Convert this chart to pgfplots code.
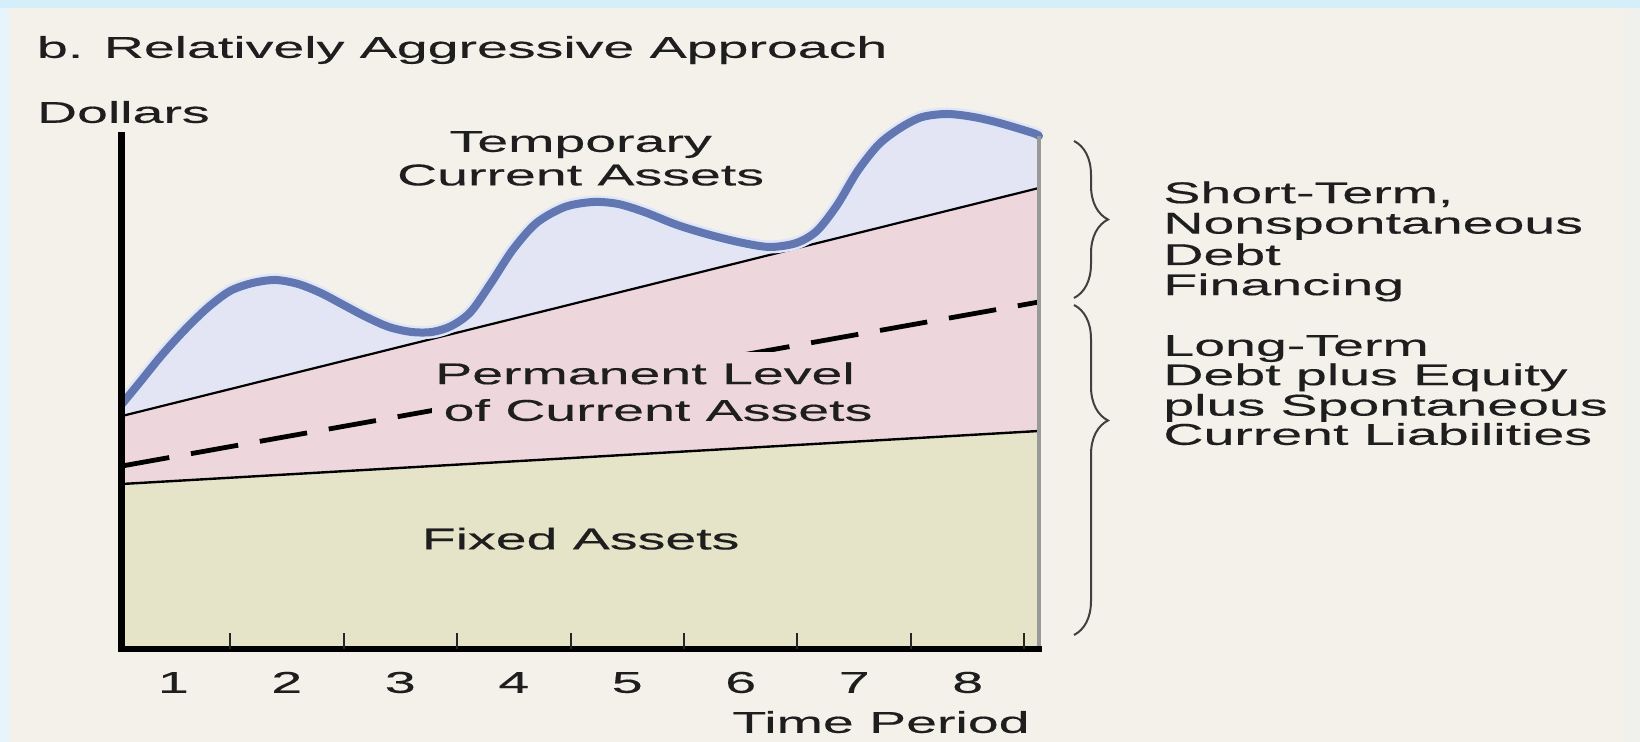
\documentclass[border=0pt]{standalone}
\usepackage{fontspec}
\setmainfont{Liberation Sans}[FakeStretch=1.85, FakeBold=0.4]
\usepackage{pgfplots}
\usepackage{pgfplotstable}
\pgfplotsset{compat=1.18}
\usetikzlibrary{decorations.pathreplacing}
\definecolor{bgc}{RGB}{244,241,234}
\definecolor{topband}{RGB}{212,238,250}
\definecolor{leftband}{RGB}{230,244,252}
\definecolor{rightband}{RGB}{240,240,236}
\definecolor{lav}{RGB}{227,228,244}
\definecolor{pinkc}{RGB}{237,215,221}
\definecolor{beige}{RGB}{230,228,200}
\definecolor{curveblue}{RGB}{98,118,178}
\definecolor{halo}{RGB}{222,230,248}
\definecolor{txt}{RGB}{30,30,30}
\newcommand\lbl{\fontsize{15}{15.5}\selectfont}

\pgfplotstableread{
x y
0.048 245
0.20 266
0.40 294
0.60 319
0.80 341
1.00 358
1.20 366
1.40 369
1.60 365
1.80 356
2.00 344
2.20 332
2.40 322
2.60 317
2.78 317
2.95 323
3.12 337
3.30 366
3.49 399
3.70 426
3.95 442
4.20 447
4.42 445
4.65 437
4.94 424
5.23 414
5.52 406
5.76 402
5.99 406
6.17 418
6.35 444
6.53 478
6.72 505
6.92 522
7.10 532
7.32 535
7.55 532
7.78 526
8.075 516
8.128 513
}\tempassets

\pgfplotstableread{
x y
0.048 233
8.128 461
}\permline

\pgfplotstableread{
x y
0.048 183
8.128 347
}\dashline

\pgfplotstableread{
x y
0.048 165
8.128 218
}\fixedline

\begin{document}
\begin{tikzpicture}
% background
\fill[topband] (-61pt,-46.5pt) rectangle (759pt,324.5pt);
\fill[leftband] (-61pt,-46.5pt) rectangle (-56.5pt,320.5pt);
\fill[bgc] (-56.5pt,-46.5pt) rectangle (751.5pt,320.5pt);
\fill[rightband] (751.5pt,-46.5pt) rectangle (759pt,320.5pt);

\begin{axis}[
  at={(0,0)}, anchor=south west,
  scale only axis, width=458.5pt, height=256.5pt,
  xmin=0.048, xmax=8.128, ymin=0, ymax=513,
  clip=false, axis on top,
  axis x line*=bottom, axis y line*=left,
  x axis line style={line width=3pt, line cap=rect, black},
  y axis line style={line width=3.5pt, line cap=rect, black},
  ytick=\empty,
  xtick={0.5,1.5,2.5,3.5,4.5,5.5,6.5,7.5},
  xticklabels={1,2,3,4,5,6,7,8},
  major tick length=0pt,
  extra x ticks={1,2,3,4,5,6,7,8},
  extra x tick labels={},
  extra x tick style={major tick length=8pt, tick align=inside, tick style={line width=1pt, black!85}},
  xticklabel style={anchor=base, yshift=-21.9pt, font=\lbl, text=txt},
  /pgf/number format/assume math mode=true,
]
\addplot[draw=none, fill=lav, smooth] table {\tempassets} \closedcycle;
\addplot[draw=none, fill=pinkc] table {\permline} \closedcycle;
\addplot[draw=none, fill=beige] table {\fixedline} \closedcycle;
\addplot[black, line width=1.2pt] table {\fixedline};
\addplot[black, line width=2.4pt, dash pattern=on 24pt off 11pt] table {\dashline};
\addplot[black, line width=1.1pt] table {\permline};
\addplot[halo, line width=6.5pt, smooth] table {\tempassets};
\addplot[curveblue, line width=4pt, smooth, line cap=round] table {\tempassets};
\addplot[black!40, line width=1.6pt] coordinates {(8.128,0) (8.128,513)};
\end{axis}

% texts
\begin{scope}[every node/.style={inner sep=0pt, font=\lbl, text=txt}]
\node[anchor=base west] at (-42.7pt,295.6pt) {b. Relatively Aggressive Approach};
\node[anchor=base west] at (-42.7pt,263.1pt) {Dollars};
\node[anchor=base] at (229.3pt,248.6pt) {Temporary};
\node[anchor=base] at (229.3pt,231.8pt) {Current Assets};
\node[anchor=base, fill=pinkc, inner xsep=6pt, inner ysep=5pt] at (268pt,114.1pt) {of Current Assets};
\node[anchor=base, fill=pinkc, inner xsep=6pt, inner ysep=5pt] at (261.5pt,132.4pt) {Permanent Level};
\node[anchor=base] at (229.3pt,49.8pt) {Fixed Assets};
\node[anchor=base west] at (520.5pt,222.9pt) {Short-Term,};
\node[anchor=base west] at (520.5pt,207.7pt) {Nonspontaneous};
\node[anchor=base west] at (520.5pt,192pt) {Debt};
\node[anchor=base west] at (520.5pt,176.9pt) {Financing};
\node[anchor=base west] at (520.5pt,146.6pt) {Long-Term};
\node[anchor=base west] at (520.5pt,131.9pt) {Debt plus Equity};
\node[anchor=base west] at (520.5pt,116.7pt) {plus Spontaneous};
\node[anchor=base west] at (520.5pt,102.1pt) {Current Liabilities};
\node[anchor=base east] at (454pt,-41.9pt) {Time Period};
\end{scope}

% braces
\draw[black!75, line width=1pt, decorate, decoration={brace, amplitude=17pt, aspect=0.5}] (476pt,254pt) -- (476pt,175.5pt);
\draw[black!75, line width=1pt, decorate, decoration={brace, amplitude=17pt, aspect=0.35}] (476pt,172pt) -- (476pt,7pt);

\pgfresetboundingbox
\useasboundingbox (-61pt,-46.5pt) rectangle (759pt,324.5pt);
\end{tikzpicture}
\end{document}
